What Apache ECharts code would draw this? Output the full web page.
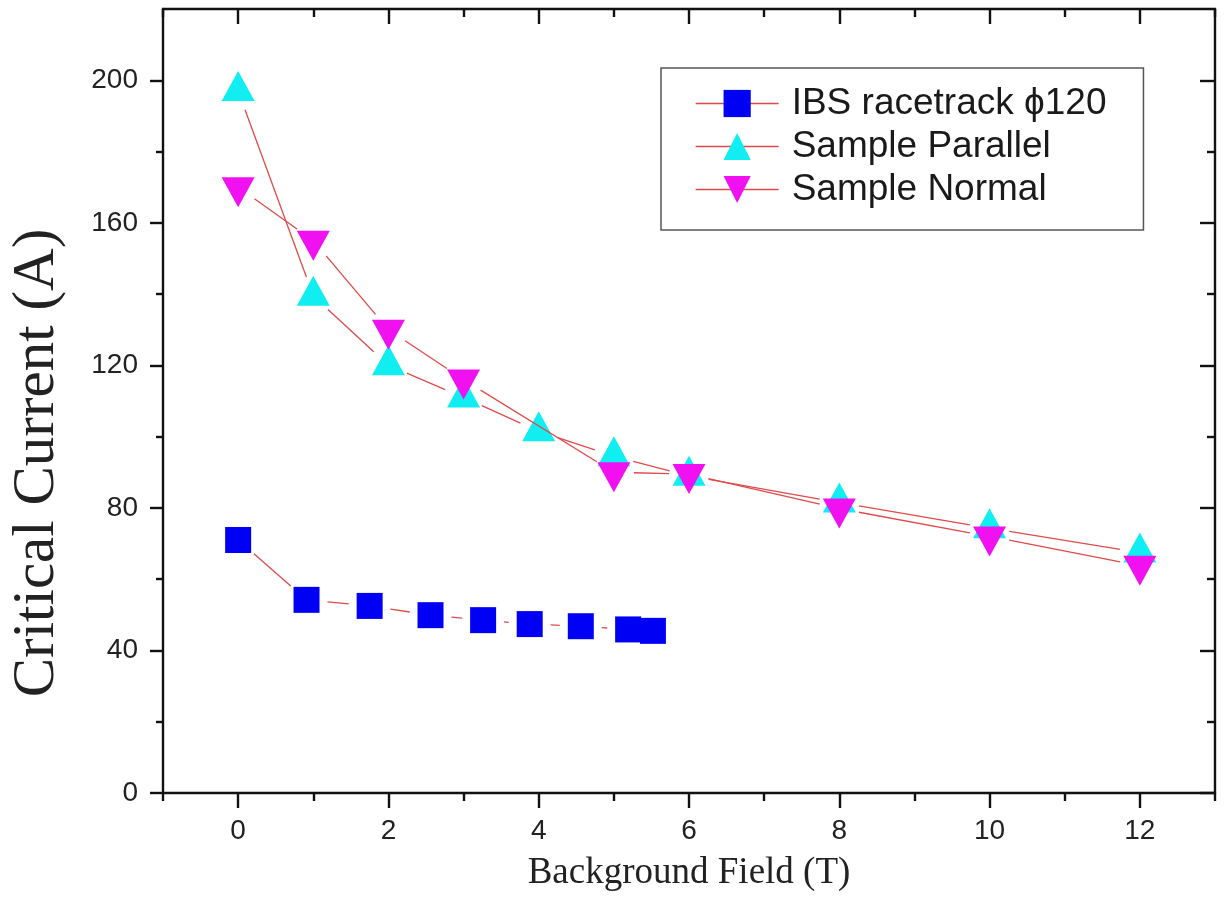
<!DOCTYPE html>
<html>
<head>
<meta charset="utf-8">
<script src="https://cdn.jsdelivr.net/npm/echarts@6/dist/echarts.min.js"></script>
<style>
  html, body { margin: 0; padding: 0; background: #fff; }
  #chart { width: 1224px; height: 911px; }
</style>
</head>
<body>
<div id="chart"></div>
<script>
// Critical current vs. background field
const ibsField = [0, 0.91, 1.75, 2.56, 3.26, 3.88, 4.56, 5.19, 5.52];
const ibsCurrent = [71, 54.2, 52.5, 49.9, 48.5, 47.4, 46.8, 45.9, 45.5];

const parallelField = [0, 1, 2, 3, 4, 5, 6, 8, 10, 12];
const parallelCurrent = [197, 139.5, 120, 111, 101.5, 94.5, 89, 81.5, 74.3, 67.5];

const normalField = [0, 1, 2, 3, 5, 6, 8, 10, 12];
const normalCurrent = [170, 155, 130, 116, 90, 89.5, 79.8, 72, 63.8];

const seriesNames = ['IBS racetrack \u03d5120', 'Sample Parallel', 'Sample Normal'];

const xMajor = [0, 2, 4, 6, 8, 10, 12];
const xMinor = [-1, 1, 3, 5, 7, 9, 11, 13];
const yMajor = [0, 40, 80, 120, 160, 200];
const yMinor = [20, 60, 100, 140, 180];

const LINE_RED = '#df4a4a';
const AXIS_COLOR = '#111';
const sans = "'Liberation Sans', Arial, sans-serif";
const serif = "'Liberation Serif', 'Times New Roman', serif";

function zip(xs, ys) { return xs.map((x, i) => [x, ys[i]]); }
function segments(xs, ys) {
  const out = [];
  for (let i = 0; i + 1 < xs.length; i++) out.push([xs[i], ys[i], xs[i + 1], ys[i + 1]]);
  return out;
}

// connecting line drawn segment by segment, leaving a gap round each point
function gappedLine(xs, ys, gap, z) {
  return {
    type: 'custom',
    silent: true,
    z: z,
    data: segments(xs, ys),
    encode: { x: [0, 2], y: [1, 3] },
    renderItem: function (params, api) {
      const a = api.coord([api.value(0), api.value(1)]);
      const b = api.coord([api.value(2), api.value(3)]);
      const dx = b[0] - a[0], dy = b[1] - a[1];
      const len = Math.sqrt(dx * dx + dy * dy);
      if (len <= 2 * gap + 1) return null;
      const ux = dx / len, uy = dy / len;
      return {
        type: 'line',
        shape: { x1: a[0] + ux * gap, y1: a[1] + uy * gap, x2: b[0] - ux * gap, y2: b[1] - uy * gap },
        style: { stroke: LINE_RED, lineWidth: 1.3 }
      };
    }
  };
}

function markers(name, xs, ys, symbol, size, color, rotate, offset, z) {
  return {
    name: name,
    type: 'line',
    z: z,
    data: zip(xs, ys),
    symbol: symbol,
    symbolSize: size,
    symbolRotate: rotate,
    symbolOffset: offset,
    showAllSymbol: true,
    itemStyle: { color: color, opacity: 1 },
    lineStyle: { width: 0, opacity: 0 },
    emphasis: { disabled: true }
  };
}

function xAxisDef(position, values, len, inside, main) {
  return {
    type: 'value', position: position, min: -1, max: 13,
    axisLine: { show: main, onZero: false, lineStyle: { color: AXIS_COLOR, width: 2.4 } },
    axisTick: { show: true, customValues: values, length: len, inside: inside, lineStyle: { color: AXIS_COLOR, width: 2.4 } },
    axisLabel: (position === 'bottom' && main)
      ? { show: true, customValues: values, margin: 24, fontSize: 28, fontFamily: sans, color: '#222' }
      : { show: false },
    splitLine: { show: false }
  };
}
function yAxisDef(position, values, len, inside, main) {
  return {
    type: 'value', position: position, min: 0, max: 220,
    axisLine: { show: main, onZero: false, lineStyle: { color: AXIS_COLOR, width: 2.4 } },
    axisTick: { show: true, customValues: values, length: len, inside: inside, lineStyle: { color: AXIS_COLOR, width: 2.4 } },
    axisLabel: (position === 'left' && main)
      ? { show: true, customValues: values, margin: 25, fontSize: 28, fontFamily: sans, color: '#222' }
      : { show: false },
    splitLine: { show: false }
  };
}

const xAxes = [
  xAxisDef('bottom', xMajor, 15, false, true),
  xAxisDef('bottom', xMinor, 8, false, false),
  xAxisDef('top', xMajor, 15, true, true),
  xAxisDef('top', xMinor, 8, true, false)
];
xAxes[0].name = 'Background Field (T)';
xAxes[0].nameLocation = 'middle';
xAxes[0].nameGap = 62;
xAxes[0].nameTextStyle = { fontFamily: serif, fontSize: 37, color: '#222' };

const yAxes = [
  yAxisDef('left', yMajor, 13, false, true),
  yAxisDef('left', yMinor, 7, false, false),
  yAxisDef('right', yMajor, 15, true, true),
  yAxisDef('right', yMinor, 8, true, false)
];
yAxes[0].name = 'Critical Current (A)';
yAxes[0].nameLocation = 'middle';
yAxes[0].nameGap = 96;
// extra trailing padding pushes the rotated title a little below the plot's middle
yAxes[0].nameTextStyle = { fontFamily: serif, fontSize: 59, color: '#222', padding: [0, 124, 0, 0] };

const chart = echarts.init(document.getElementById('chart'), null, { renderer: 'canvas' });
chart.setOption({
  animation: false,
  backgroundColor: '#ffffff',
  grid: { left: 163, right: 9, top: 9, bottom: 118, containLabel: false },
  xAxis: xAxes,
  yAxis: yAxes,
  legend: {
    left: 661, top: 68,
    orient: 'vertical',
    data: seriesNames,
    padding: [17, 37, 22, 34],
    itemWidth: 83, itemHeight: 34, itemGap: 6,
    borderColor: '#555', borderWidth: 1.5, backgroundColor: '#fff',
    selectedMode: false,
    lineStyle: { color: LINE_RED, width: 1.3, opacity: 1, type: 'solid' },
    textStyle: { fontFamily: sans, fontSize: 37, color: '#1a1a1a', padding: [0, 0, 0, 8] }
  },
  series: [
    gappedLine(ibsField, ibsCurrent, 21, 2),
    markers(seriesNames[0], ibsField, ibsCurrent, 'rect', 26, '#0000f5', 0, [0, 0], 3),
    gappedLine(parallelField, parallelCurrent, 20, 4),
    markers(seriesNames[1], parallelField, parallelCurrent, 'triangle', [33, 30], '#10eef2', 0, [0, -5], 5),
    gappedLine(normalField, normalCurrent, 20, 6),
    markers(seriesNames[2], normalField, normalCurrent, 'triangle', [33, 30], '#f010f0', 180, [0, 5], 7)
  ]
});
</script>
</body>
</html>
